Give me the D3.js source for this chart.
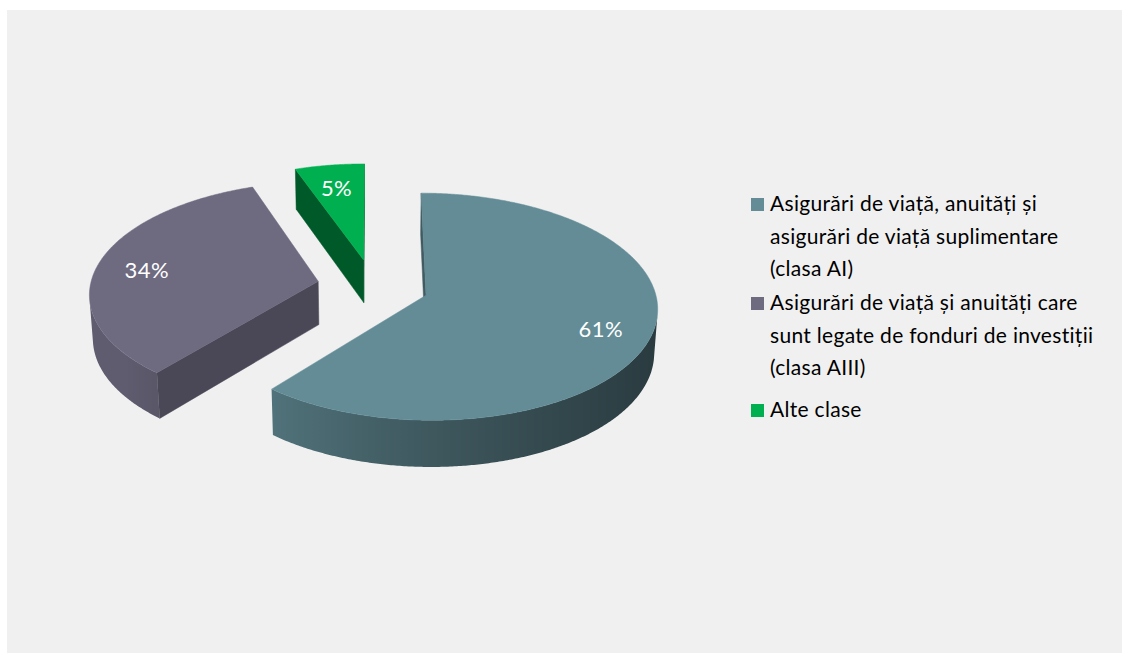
<!DOCTYPE html>
<html>
<head>
<meta charset="utf-8">
<script src="https://cdn.jsdelivr.net/npm/d3@7/dist/d3.min.js"></script>
<style>
  html, body { margin: 0; padding: 0; background: #ffffff; overflow: hidden; }
  svg { display: block; }
  text { font-family: Lato, "Open Sans", sans-serif; }
</style>
</head>
<body>
<svg id="chart" width="1122" height="654"></svg>
<script>
// ---- data ----
const categories = [
  "Asigurări de viață, anuități și asigurări de viață suplimentare (clasa AI)",
  "Asigurări de viață și anuități care sunt legate de fonduri de investiții (clasa AIII)",
  "Alte clase"
];
const legendLines = [
  ["Asigurări de viață, anuități și", "asigurări de viață suplimentare", "(clasa AI)"],
  ["Asigurări de viață și anuități care", "sunt legate de fonduri de investiții", "(clasa AIII)"],
  ["Alte clase"]
];
const values = [61, 33.5, 5.5];
const valueLabels = ["61%", "34%", "5%"];

// ---- styles ----
const colors = ["#638C96", "#6E6A80", "#00B050"];
const cutShade = [1.2, 1.1, 1.9];

// ---- 3D projection parameters ----
const S = 228, CX = 373, CY = 286;
const ELEV = 29 * Math.PI / 180, DIST = 8.75, H = 0.22, EXPLODE = 0.245, LABEL_R = 0.78;
const sinE = Math.sin(ELEV), cosE = Math.cos(ELEV);
const cam = [0, DIST * sinE, DIST * cosE];

function proj(X, Y, Z) {
  const yc = Y * cosE - Z * sinE;
  const zc = Y * sinE + Z * cosE;
  const k = DIST / (DIST - zc);
  return [CX + S * X * k, CY - S * yc * k];
}
function visible(n, p) {
  return n[0] * (cam[0] - p[0]) + n[1] * (cam[1] - p[1]) + n[2] * (cam[2] - p[2]) > 0;
}

const svg = d3.select("#chart");
const defs = svg.append("defs");
svg.append("rect").attr("x", 7).attr("y", 10).attr("width", 1115).attr("height", 643).attr("fill", "#F0F0F0");

const pie = d3.pie().sort(null).value(d => d)(values);

const slices = pie.map((p, i) => {
  const mid = (p.startAngle + p.endAngle) / 2;
  return { p, i, ox: EXPLODE * Math.sin(mid), oz: -EXPLODE * Math.cos(mid), mid };
});
slices.sort((a, b) => a.oz - b.oz);

const line = d3.line();
const g = svg.append("g");

slices.forEach(s => {
  const { p, i, ox, oz } = s;
  const pt = (th, r, Y) => [ox + r * Math.sin(th), Y, oz - r * Math.cos(th)];
  const P = v => proj(v[0], v[1], v[2]);
  const base = d3.color(colors[i]);
  const sg = g.append("g");

  // cut faces
  const cuts = [
    { th: p.startAngle, n: p.startAngle - Math.PI / 2 },
    { th: p.endAngle, n: p.endAngle + Math.PI / 2 }
  ];
  cuts.forEach(c => {
    const nrm = [Math.sin(c.n), 0, -Math.cos(c.n)];
    const a = pt(0, 0, 0), b = pt(c.th, 1, 0), bb = pt(c.th, 1, -H), ab = pt(0, 0, -H);
    const mp = [(a[0] + b[0]) / 2, -H / 2, (a[2] + b[2]) / 2];
    if (visible(nrm, mp)) {
      const col = base.darker(cutShade[i]).toString();
      sg.append("path").attr("d", line([a, b, bb, ab].map(P)) + "Z")
        .attr("fill", col).attr("stroke", col).attr("stroke-width", 0.5);
    }
  });

  // outer side: one continuous visible band with a horizontal gradient
  const steps = Math.max(8, Math.ceil((p.endAngle - p.startAngle) / (Math.PI / 360)));
  const dth = (p.endAngle - p.startAngle) / steps;
  const vis = [];
  for (let k = 0; k <= steps; k++) {
    const th = p.startAngle + k * dth;
    const nrm = [Math.sin(th), 0, -Math.cos(th)];
    if (visible(nrm, pt(th, 1, -H / 2))) vis.push(th);
  }
  if (vis.length > 1) {
    const topArc = vis.map(th => P(pt(th, 1, 0)));
    const botArc = vis.map(th => P(pt(th, 1, -H))).reverse();
    const xs = topArc.map(d => d[0]);
    const x0 = d3.min(xs), x1 = d3.max(xs);
    const gid = "side" + i;
    const grad = defs.append("linearGradient").attr("id", gid)
      .attr("gradientUnits", "userSpaceOnUse")
      .attr("x1", x0).attr("x2", x1).attr("y1", 0).attr("y2", 0);
    const stops = vis.map((th, k) => ({ off: (xs[k] - x0) / Math.max(1, x1 - x0), th }))
      .sort((a, b) => a.off - b.off);
    stops.forEach(st => {
      const dk = Math.max(0.4, 1.3 + 1.15 * Math.sin(st.th));
      grad.append("stop").attr("offset", st.off).attr("stop-color", base.darker(dk).toString());
    });
    sg.append("path").attr("d", line(topArc.concat(botArc)) + "Z")
      .attr("fill", `url(#${gid})`);
  }

  // top face
  const topPts = [pt(0, 0, 0)];
  for (let k = 0; k <= steps; k++) {
    topPts.push(pt(p.startAngle + k * dth, 1, 0));
  }
  sg.append("path").attr("d", line(topPts.map(P)) + "Z")
    .attr("fill", colors[i]).attr("stroke", colors[i]).attr("stroke-width", 0.5);

  // label
  const lp = P(pt(s.mid, LABEL_R, 0));
  sg.append("text").attr("x", lp[0]).attr("y", lp[1] + 3)
    .attr("text-anchor", "middle").attr("dominant-baseline", "central")
    .attr("fill", "#ffffff").attr("font-size", 22).attr("letter-spacing", 0.4)
    .text(valueLabels[i]);
});

// ---- legend ----
const LX = 751, LTX = 770, LINE_H = 32.5;
const itemTops = [211, 310, 417];
const legend = svg.append("g");
legendLines.forEach((lines, i) => {
  const gi = legend.append("g");
  gi.append("rect").attr("x", LX).attr("y", itemTops[i] - 13).attr("width", 13).attr("height", 13)
    .attr("fill", colors[i]);
  lines.forEach((t, j) => {
    gi.append("text").attr("x", LTX).attr("y", itemTops[i] + j * LINE_H)
      .attr("font-size", 21).attr("letter-spacing", 0.3).attr("fill", "#000000").text(t);
  });
});
</script>
</body>
</html>
